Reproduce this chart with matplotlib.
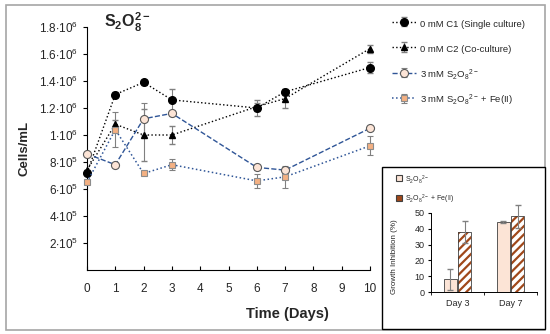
import matplotlib
matplotlib.use("Agg")
import matplotlib.pyplot as plt
from matplotlib.patches import Rectangle
from matplotlib.lines import Line2D
import numpy as np

plt.rcParams['font.family'] = ['Liberation Sans', 'DejaVu Sans']
plt.rcParams['mathtext.fontset'] = 'custom'
plt.rcParams['mathtext.rm'] = 'Liberation Sans'
plt.rcParams['mathtext.it'] = 'Liberation Sans'
plt.rcParams['mathtext.bf'] = 'Liberation Sans:bold'
plt.rcParams['hatch.linewidth'] = 1.6

# main chart data (cells/mL)
days = [0, 1, 2, 3, 6, 7, 10]
c1 = [7.2e5, 1.30e6, 1.39e6, 1.26e6, 1.20e6, 1.32e6, 1.50e6]
c1_err = [0, 0.02e6, 0.02e6, 0.08e6, 0.06e6, 0.02e6, 0.04e6]
c2 = [7.4e5, 1.08e6, 1.00e6, 1.00e6, 1.21e6, 1.27e6, 1.64e6]
c2_err = [0, 0.03e6, 0.19e6, 0.07e6, 0.03e6, 0.07e6, 0.03e6]
s2o8 = [8.6e5, 7.8e5, 1.12e6, 1.16e6, 7.6e5, 7.4e5, 1.05e6]
s2o8_err = [0, 0, 0.12e6, 0.02e6, 0.02e6, 0.02e6, 0]
s2o8_fe = [6.5e5, 1.04e6, 7.15e5, 7.8e5, 6.6e5, 6.9e5, 9.2e5]
s2o8_fe_err = [0, 0.13e6, 0, 0.04e6, 0.05e6, 0.08e6, 0.07e6]

ytick_vals = [2e5, 4e5, 6e5, 8e5, 1e6, 1.2e6, 1.4e6, 1.6e6, 1.8e6]
ytick_labels = [r'$2{\cdot}10^5$', r'$4{\cdot}10^5$', r'$6{\cdot}10^5$', r'$8{\cdot}10^5$',
                r'$1{\cdot}10^6$', r'$1.2{\cdot}10^6$', r'$1.4{\cdot}10^6$',
                r'$1.6{\cdot}10^6$', r'$1.8{\cdot}10^6$']

# inset data (growth inhibition %)
inh_days = ['Day 3', 'Day 7']
inh_s2o8 = [8, 44.3]
inh_s2o8_err = [6.5, 0.5]
inh_fe = [38, 47.8]
inh_fe_err = [7, 7]

blue = '#2F5597'
peach = '#FCE4D6'
orange = '#F4B183'
brown = '#A0481A'
txt = '#262626'

fig = plt.figure(figsize=(5.5, 3.34), dpi=100)

# outer frame
fig.patches.append(Rectangle((6 / 550, 4 / 334), 539 / 550, 325 / 334, transform=fig.transFigure,
                             fill=False, edgecolor='#A6A6A6', lw=1.2))

ax = fig.add_axes([87 / 550, 64 / 334, 283 / 550, 243 / 334])
ax.set_xlim(0, 10)
ax.set_ylim(0, 1.8e6)

ax.errorbar(days, c1, yerr=c1_err, color='black', ls=':', lw=1, marker='o', ms=5.5,
            ecolor='#808080', elinewidth=0.8, capsize=2, clip_on=False, zorder=3,
            label='0 mM C1 (Single culture)')
ax.errorbar(days, c2, yerr=c2_err, color='black', ls=':', lw=1, marker='^', ms=5,
            ecolor='#808080', elinewidth=0.8, capsize=2, clip_on=False, zorder=3,
            label='0 mM C2 (Co-culture)')
ax.errorbar(days, s2o8, yerr=s2o8_err, color=blue, ls='--', lw=1, marker='o', ms=5.8,
            mfc=peach, mec='#595959', mew=0.8, ecolor='#808080', elinewidth=0.8, capsize=2,
            clip_on=False, zorder=3, label=r'3 mM S$_2$O$_8$$^{2-}$')
ax.errorbar(days, s2o8_fe, yerr=s2o8_fe_err, color=blue, ls=':', lw=1.1, marker='s', ms=4.6,
            mfc=orange, mec='#8C8C8C', mew=0.8, ecolor='#808080', elinewidth=0.8, capsize=2,
            clip_on=False, zorder=3, label=r'3 mM S$_2$O$_8$$^{2-}$ + Fe(II)')

ax.spines['top'].set_visible(False)
ax.spines['right'].set_visible(False)
ax.set_xticks(range(0, 11))
ax.set_yticks(ytick_vals)
ax.set_yticklabels(ytick_labels)
ax.tick_params(axis='x', direction='in', length=3, labelsize=8.5, pad=9, labelcolor=txt)
ax.tick_params(axis='y', direction='out', length=3, labelsize=8.5, labelcolor=txt)
ax.set_xlabel('Time (Days)', fontsize=10.5, fontweight='bold', color=txt)
ax.xaxis.set_label_coords(0.71, -0.152)
ax.set_ylabel('Cells/mL', fontsize=9.5, fontweight='bold', color=txt)
ax.yaxis.set_label_coords(-0.2, 0.5)

fig.text(127 / 550, 1 - 22 / 334, r'$\mathbf{S_2O_8^{2-}}$', fontsize=11.5, ha='center', va='center',
         color=txt)

handles, labels = ax.get_legend_handles_labels()
fig.legend(handles, labels, loc='upper left', bbox_to_anchor=(383 / 550, 1 - 8 / 334),
           frameon=False, fontsize=6.8, labelspacing=1.15, handleheight=2.0, handlelength=2.6,
           handletextpad=0.4, labelcolor=txt)

# inset box
fig.patches.append(Rectangle((382 / 550, 5 / 334), 163 / 550, 162 / 334, transform=fig.transFigure,
                             fill=True, facecolor='white', edgecolor='black', lw=1.0, zorder=2))

iax = fig.add_axes([431 / 550, 42 / 334, 106 / 550, 79 / 334], zorder=5)
iax.patch.set_alpha(0)
x = np.arange(len(inh_days))
w = 0.25
iax.bar(x - 0.135, inh_s2o8, w, yerr=inh_s2o8_err, color=peach, edgecolor='#404040', lw=0.6,
        error_kw=dict(ecolor='#808080', elinewidth=0.8, capsize=2, clip_on=False))
iax.bar(x + 0.135, inh_fe, w, yerr=inh_fe_err, color='white', edgecolor=brown, hatch='////', lw=0,
        error_kw=dict(ecolor='#808080', elinewidth=0.8, capsize=2, clip_on=False))
iax.bar(x + 0.135, inh_fe, w, fill=False, edgecolor='#404040', lw=0.6)
iax.set_xlim(-0.5, 1.5)
iax.set_ylim(0, 50)
iax.set_yticks([0, 10, 20, 30, 40, 50])
iax.set_xticks(x)
iax.set_xticklabels(inh_days)
iax.set_xticks([-0.5, 0.5, 1.5], minor=True)
iax.tick_params(axis='x', which='major', length=0, labelsize=6.5, pad=5, labelcolor=txt)
iax.tick_params(axis='x', which='minor', length=2.5, direction='out')
iax.tick_params(axis='y', labelsize=6.5, length=2.5, pad=2, labelcolor=txt)
iax.spines['top'].set_visible(False)
iax.spines['right'].set_visible(False)
for s in ('left', 'bottom'):
    iax.spines[s].set_linewidth(0.7)
iax.set_ylabel('Growth Inhibition (%)', fontsize=5.8, color=txt)
iax.yaxis.set_label_coords(-0.31, 0.45)

inset_handles = [
    Line2D([], [], ls='none', marker='s', ms=4.5, mfc=peach, mec='#404040', mew=0.8),
    Line2D([], [], ls='none', marker='s', ms=4.5, mfc=brown, mec='#404040', mew=0.8),
]
fig.legend(inset_handles, [r'S$_2$O$_8$$^{2-}$', r'S$_2$O$_8$$^{2-}$ + Fe(II)'],
           loc='upper left', bbox_to_anchor=(389 / 550, 1 - 167 / 334), frameon=False,
           fontsize=5, labelspacing=1.05, handleheight=2.0, handlelength=1.0, handletextpad=0.4,
           labelcolor=txt)

fig.savefig('out.png', dpi=100)
